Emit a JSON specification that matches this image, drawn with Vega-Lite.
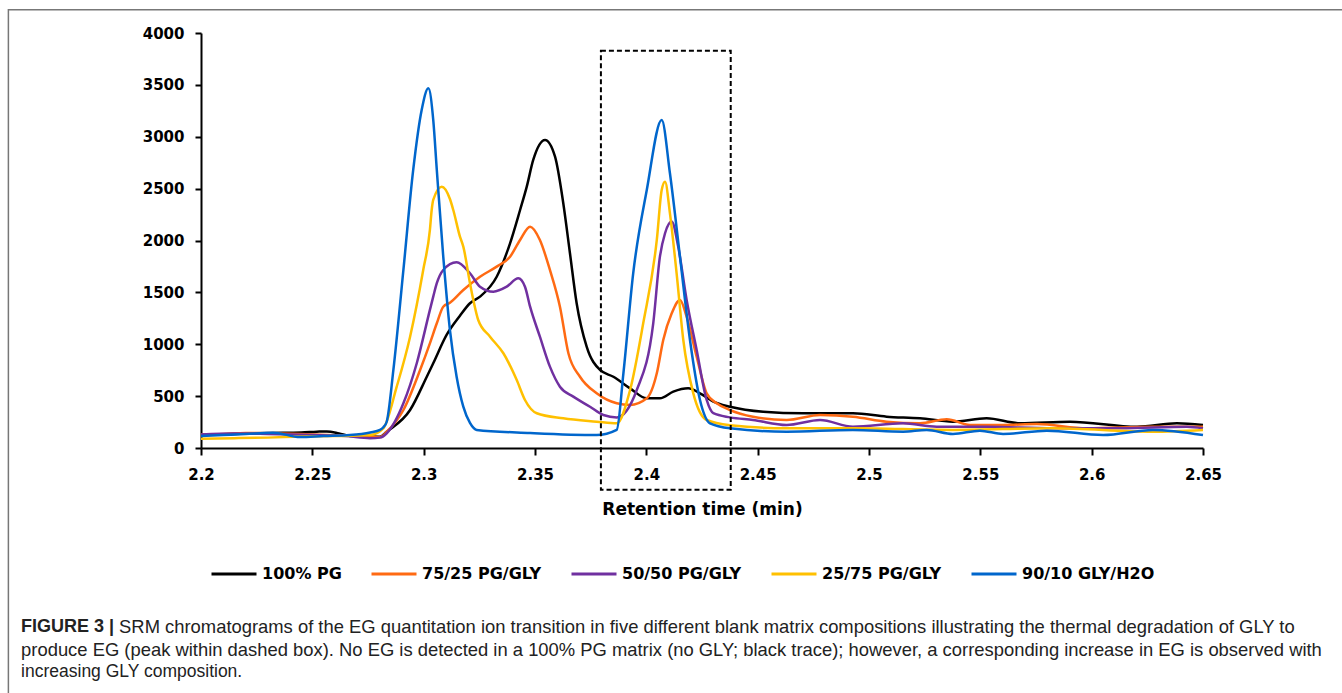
{
  "$schema": "https://vega.github.io/schema/vega-lite/v6.json",
  "width": 1002,
  "height": 415,
  "autosize": {"type": "none"},
  "padding": {"left": 201, "top": 33, "right": 139, "bottom": 245},
  "background": "white",
  "config": {"view": {"stroke": null}},
  "datasets": {
    "traces": [
      {"series":"100% PG","time":2.2,"signal":125},{"series":"100% PG","time":2.215,"signal":135},{"series":"100% PG","time":2.23,"signal":145},{"series":"100% PG","time":2.245,"signal":150},{"series":"100% PG","time":2.252,"signal":157},{"series":"100% PG","time":2.2565,"signal":160},{"series":"100% PG","time":2.262,"signal":140},{"series":"100% PG","time":2.2669,"signal":116},{"series":"100% PG","time":2.2804,"signal":109},{"series":"100% PG","time":2.2834,"signal":157},{"series":"100% PG","time":2.2939,"signal":366},{"series":"100% PG","time":2.3014,"signal":687},{"series":"100% PG","time":2.3043,"signal":817},{"series":"100% PG","time":2.3103,"signal":1090},{"series":"100% PG","time":2.3163,"signal":1275},{"series":"100% PG","time":2.3208,"signal":1395},{"series":"100% PG","time":2.3253,"signal":1459},{"series":"100% PG","time":2.3328,"signal":1651},{"series":"100% PG","time":2.3388,"signal":1973},{"series":"100% PG","time":2.3433,"signal":2294},{"series":"100% PG","time":2.3463,"signal":2519},{"series":"100% PG","time":2.3492,"signal":2776},{"series":"100% PG","time":2.3545,"signal":2969},{"series":"100% PG","time":2.359,"signal":2808},{"series":"100% PG","time":2.3627,"signal":2359},{"series":"100% PG","time":2.3657,"signal":1877},{"series":"100% PG","time":2.3687,"signal":1395},{"series":"100% PG","time":2.3732,"signal":977},{"series":"100% PG","time":2.3792,"signal":752},{"series":"100% PG","time":2.3852,"signal":687},{"series":"100% PG","time":2.3927,"signal":575},{"series":"100% PG","time":2.4002,"signal":479},{"series":"100% PG","time":2.4061,"signal":479},{"series":"100% PG","time":2.4121,"signal":543},{"series":"100% PG","time":2.4188,"signal":575},{"series":"100% PG","time":2.4241,"signal":527},{"series":"100% PG","time":2.4301,"signal":447},{"series":"100% PG","time":2.4376,"signal":398},{"series":"100% PG","time":2.4525,"signal":350},{"series":"100% PG","time":2.4704,"signal":335},{"series":"100% PG","time":2.4928,"signal":335},{"series":"100% PG","time":2.5079,"signal":302},{"series":"100% PG","time":2.5229,"signal":286},{"series":"100% PG","time":2.5377,"signal":254},{"series":"100% PG","time":2.5528,"signal":286},{"series":"100% PG","time":2.5678,"signal":238},{"series":"100% PG","time":2.5903,"signal":254},{"series":"100% PG","time":2.6204,"signal":205},{"series":"100% PG","time":2.6383,"signal":238},{"series":"100% PG","time":2.65,"signal":222},
      {"series":"75/25 PG/GLY","time":2.2,"signal":130},{"series":"75/25 PG/GLY","time":2.21,"signal":135},{"series":"75/25 PG/GLY","time":2.22,"signal":145},{"series":"75/25 PG/GLY","time":2.235,"signal":140},{"series":"75/25 PG/GLY","time":2.25,"signal":130},{"series":"75/25 PG/GLY","time":2.265,"signal":120},{"series":"75/25 PG/GLY","time":2.2804,"signal":105},{"series":"75/25 PG/GLY","time":2.2834,"signal":157},{"series":"75/25 PG/GLY","time":2.2909,"signal":366},{"series":"75/25 PG/GLY","time":2.2984,"signal":752},{"series":"75/25 PG/GLY","time":2.3028,"signal":1009},{"series":"75/25 PG/GLY","time":2.3059,"signal":1202},{"series":"75/25 PG/GLY","time":2.3088,"signal":1362},{"series":"75/25 PG/GLY","time":2.3118,"signal":1400},{"series":"75/25 PG/GLY","time":2.3178,"signal":1523},{"series":"75/25 PG/GLY","time":2.3253,"signal":1651},{"series":"75/25 PG/GLY","time":2.3328,"signal":1748},{"series":"75/25 PG/GLY","time":2.3388,"signal":1844},{"series":"75/25 PG/GLY","time":2.3433,"signal":2005},{"series":"75/25 PG/GLY","time":2.3478,"signal":2133},{"series":"75/25 PG/GLY","time":2.3522,"signal":2005},{"series":"75/25 PG/GLY","time":2.3567,"signal":1716},{"series":"75/25 PG/GLY","time":2.3612,"signal":1362},{"series":"75/25 PG/GLY","time":2.365,"signal":913},{"series":"75/25 PG/GLY","time":2.3702,"signal":687},{"series":"75/25 PG/GLY","time":2.3777,"signal":527},{"series":"75/25 PG/GLY","time":2.3867,"signal":431},{"series":"75/25 PG/GLY","time":2.3927,"signal":415},{"series":"75/25 PG/GLY","time":2.4002,"signal":479},{"series":"75/25 PG/GLY","time":2.4047,"signal":720},{"series":"75/25 PG/GLY","time":2.4076,"signal":1041},{"series":"75/25 PG/GLY","time":2.4114,"signal":1298},{"series":"75/25 PG/GLY","time":2.4151,"signal":1427},{"series":"75/25 PG/GLY","time":2.4181,"signal":1266},{"series":"75/25 PG/GLY","time":2.4226,"signal":880},{"series":"75/25 PG/GLY","time":2.4271,"signal":527},{"series":"75/25 PG/GLY","time":2.4316,"signal":431},{"series":"75/25 PG/GLY","time":2.4376,"signal":366},{"series":"75/25 PG/GLY","time":2.4479,"signal":302},{"series":"75/25 PG/GLY","time":2.463,"signal":270},{"series":"75/25 PG/GLY","time":2.478,"signal":318},{"series":"75/25 PG/GLY","time":2.4928,"signal":302},{"series":"75/25 PG/GLY","time":2.5079,"signal":254},{"series":"75/25 PG/GLY","time":2.5229,"signal":238},{"series":"75/25 PG/GLY","time":2.5349,"signal":276},{"series":"75/25 PG/GLY","time":2.5454,"signal":222},{"series":"75/25 PG/GLY","time":2.5602,"signal":222},{"series":"75/25 PG/GLY","time":2.5754,"signal":231},{"series":"75/25 PG/GLY","time":2.5979,"signal":190},{"series":"75/25 PG/GLY","time":2.6275,"signal":205},{"series":"75/25 PG/GLY","time":2.65,"signal":205},
      {"series":"50/50 PG/GLY","time":2.2,"signal":130},{"series":"50/50 PG/GLY","time":2.215,"signal":140},{"series":"50/50 PG/GLY","time":2.23,"signal":135},{"series":"50/50 PG/GLY","time":2.25,"signal":125},{"series":"50/50 PG/GLY","time":2.265,"signal":115},{"series":"50/50 PG/GLY","time":2.2759,"signal":95},{"series":"50/50 PG/GLY","time":2.2804,"signal":100},{"series":"50/50 PG/GLY","time":2.2834,"signal":142},{"series":"50/50 PG/GLY","time":2.2909,"signal":431},{"series":"50/50 PG/GLY","time":2.2969,"signal":817},{"series":"50/50 PG/GLY","time":2.3028,"signal":1331},{"series":"50/50 PG/GLY","time":2.3043,"signal":1459},{"series":"50/50 PG/GLY","time":2.3059,"signal":1588},{"series":"50/50 PG/GLY","time":2.3088,"signal":1716},{"series":"50/50 PG/GLY","time":2.3148,"signal":1790},{"series":"50/50 PG/GLY","time":2.3208,"signal":1684},{"series":"50/50 PG/GLY","time":2.3253,"signal":1555},{"series":"50/50 PG/GLY","time":2.3313,"signal":1507},{"series":"50/50 PG/GLY","time":2.3373,"signal":1555},{"series":"50/50 PG/GLY","time":2.3425,"signal":1636},{"series":"50/50 PG/GLY","time":2.3455,"signal":1555},{"series":"50/50 PG/GLY","time":2.3478,"signal":1362},{"series":"50/50 PG/GLY","time":2.3522,"signal":1073},{"series":"50/50 PG/GLY","time":2.3567,"signal":784},{"series":"50/50 PG/GLY","time":2.3612,"signal":591},{"series":"50/50 PG/GLY","time":2.3672,"signal":495},{"series":"50/50 PG/GLY","time":2.3747,"signal":398},{"series":"50/50 PG/GLY","time":2.3807,"signal":318},{"series":"50/50 PG/GLY","time":2.3867,"signal":295},{"series":"50/50 PG/GLY","time":2.3957,"signal":559},{"series":"50/50 PG/GLY","time":2.4031,"signal":1202},{"series":"50/50 PG/GLY","time":2.4061,"signal":1844},{"series":"50/50 PG/GLY","time":2.4084,"signal":2070},{"series":"50/50 PG/GLY","time":2.4114,"signal":2182},{"series":"50/50 PG/GLY","time":2.4143,"signal":1941},{"series":"50/50 PG/GLY","time":2.4181,"signal":1427},{"series":"50/50 PG/GLY","time":2.4226,"signal":945},{"series":"50/50 PG/GLY","time":2.4271,"signal":463},{"series":"50/50 PG/GLY","time":2.4301,"signal":335},{"series":"50/50 PG/GLY","time":2.4376,"signal":295},{"series":"50/50 PG/GLY","time":2.4479,"signal":270},{"series":"50/50 PG/GLY","time":2.463,"signal":222},{"series":"50/50 PG/GLY","time":2.478,"signal":270},{"series":"50/50 PG/GLY","time":2.4928,"signal":205},{"series":"50/50 PG/GLY","time":2.5153,"signal":238},{"series":"50/50 PG/GLY","time":2.5304,"signal":205},{"series":"50/50 PG/GLY","time":2.5528,"signal":205},{"series":"50/50 PG/GLY","time":2.5826,"signal":190},{"series":"50/50 PG/GLY","time":2.6127,"signal":190},{"series":"50/50 PG/GLY","time":2.6428,"signal":205},{"series":"50/50 PG/GLY","time":2.65,"signal":190},
      {"series":"25/75 PG/GLY","time":2.2,"signal":90},{"series":"25/75 PG/GLY","time":2.215,"signal":95},{"series":"25/75 PG/GLY","time":2.23,"signal":100},{"series":"25/75 PG/GLY","time":2.245,"signal":110},{"series":"25/75 PG/GLY","time":2.26,"signal":115},{"series":"25/75 PG/GLY","time":2.2759,"signal":125},{"series":"25/75 PG/GLY","time":2.2819,"signal":190},{"series":"25/75 PG/GLY","time":2.2879,"signal":591},{"series":"25/75 PG/GLY","time":2.2939,"signal":1073},{"series":"25/75 PG/GLY","time":2.2998,"signal":1716},{"series":"25/75 PG/GLY","time":2.3028,"signal":2102},{"series":"25/75 PG/GLY","time":2.3036,"signal":2294},{"series":"25/75 PG/GLY","time":2.3043,"signal":2391},{"series":"25/75 PG/GLY","time":2.3081,"signal":2519},{"series":"25/75 PG/GLY","time":2.3118,"signal":2400},{"series":"25/75 PG/GLY","time":2.3133,"signal":2294},{"series":"25/75 PG/GLY","time":2.3163,"signal":2037},{"series":"25/75 PG/GLY","time":2.3178,"signal":1941},{"series":"25/75 PG/GLY","time":2.3208,"signal":1588},{"series":"25/75 PG/GLY","time":2.3223,"signal":1427},{"series":"25/75 PG/GLY","time":2.3245,"signal":1234},{"series":"25/75 PG/GLY","time":2.3298,"signal":1073},{"series":"25/75 PG/GLY","time":2.3358,"signal":913},{"series":"25/75 PG/GLY","time":2.3418,"signal":655},{"series":"25/75 PG/GLY","time":2.3455,"signal":463},{"series":"25/75 PG/GLY","time":2.3508,"signal":335},{"series":"25/75 PG/GLY","time":2.3627,"signal":286},{"series":"25/75 PG/GLY","time":2.3777,"signal":254},{"series":"25/75 PG/GLY","time":2.3867,"signal":238},{"series":"25/75 PG/GLY","time":2.3927,"signal":559},{"series":"25/75 PG/GLY","time":2.3986,"signal":1202},{"series":"25/75 PG/GLY","time":2.4047,"signal":2005},{"series":"25/75 PG/GLY","time":2.4069,"signal":2487},{"series":"25/75 PG/GLY","time":2.4084,"signal":2567},{"series":"25/75 PG/GLY","time":2.4106,"signal":2262},{"series":"25/75 PG/GLY","time":2.4136,"signal":1684},{"series":"25/75 PG/GLY","time":2.4166,"signal":1041},{"series":"25/75 PG/GLY","time":2.4211,"signal":527},{"series":"25/75 PG/GLY","time":2.4271,"signal":270},{"series":"25/75 PG/GLY","time":2.4376,"signal":220},{"series":"25/75 PG/GLY","time":2.463,"signal":190},{"series":"25/75 PG/GLY","time":2.4928,"signal":190},{"series":"25/75 PG/GLY","time":2.5377,"signal":174},{"series":"25/75 PG/GLY","time":2.5826,"signal":190},{"series":"25/75 PG/GLY","time":2.6275,"signal":157},{"series":"25/75 PG/GLY","time":2.65,"signal":174},
      {"series":"90/10 GLY/H2O","time":2.2,"signal":115},{"series":"90/10 GLY/H2O","time":2.21,"signal":125},{"series":"90/10 GLY/H2O","time":2.22,"signal":135},{"series":"90/10 GLY/H2O","time":2.2323,"signal":148},{"series":"90/10 GLY/H2O","time":2.2445,"signal":105},{"series":"90/10 GLY/H2O","time":2.255,"signal":115},{"series":"90/10 GLY/H2O","time":2.2669,"signal":125},{"series":"90/10 GLY/H2O","time":2.276,"signal":150},{"series":"90/10 GLY/H2O","time":2.2804,"signal":175},{"series":"90/10 GLY/H2O","time":2.2819,"signal":200},{"series":"90/10 GLY/H2O","time":2.2834,"signal":253},{"series":"90/10 GLY/H2O","time":2.2864,"signal":752},{"series":"90/10 GLY/H2O","time":2.2909,"signal":1716},{"series":"90/10 GLY/H2O","time":2.2953,"signal":2680},{"series":"90/10 GLY/H2O","time":2.2991,"signal":3258},{"series":"90/10 GLY/H2O","time":2.3021,"signal":3467},{"series":"90/10 GLY/H2O","time":2.3043,"signal":3162},{"series":"90/10 GLY/H2O","time":2.3059,"signal":2680},{"series":"90/10 GLY/H2O","time":2.3088,"signal":1844},{"series":"90/10 GLY/H2O","time":2.3118,"signal":1137},{"series":"90/10 GLY/H2O","time":2.3148,"signal":687},{"series":"90/10 GLY/H2O","time":2.3178,"signal":398},{"series":"90/10 GLY/H2O","time":2.3208,"signal":241},{"series":"90/10 GLY/H2O","time":2.3238,"signal":174},{"series":"90/10 GLY/H2O","time":2.3478,"signal":145},{"series":"90/10 GLY/H2O","time":2.3777,"signal":125},{"series":"90/10 GLY/H2O","time":2.3867,"signal":174},{"series":"90/10 GLY/H2O","time":2.3897,"signal":720},{"series":"90/10 GLY/H2O","time":2.3941,"signal":1684},{"series":"90/10 GLY/H2O","time":2.4002,"signal":2487},{"series":"90/10 GLY/H2O","time":2.4069,"signal":3162},{"series":"90/10 GLY/H2O","time":2.4106,"signal":2648},{"series":"90/10 GLY/H2O","time":2.4151,"signal":1844},{"series":"90/10 GLY/H2O","time":2.4196,"signal":1041},{"series":"90/10 GLY/H2O","time":2.4241,"signal":463},{"series":"90/10 GLY/H2O","time":2.4286,"signal":238},{"series":"90/10 GLY/H2O","time":2.4376,"signal":190},{"series":"90/10 GLY/H2O","time":2.463,"signal":157},{"series":"90/10 GLY/H2O","time":2.4928,"signal":174},{"series":"90/10 GLY/H2O","time":2.5153,"signal":157},{"series":"90/10 GLY/H2O","time":2.5259,"signal":174},{"series":"90/10 GLY/H2O","time":2.5377,"signal":135},{"series":"90/10 GLY/H2O","time":2.5498,"signal":167},{"series":"90/10 GLY/H2O","time":2.5602,"signal":135},{"series":"90/10 GLY/H2O","time":2.5799,"signal":167},{"series":"90/10 GLY/H2O","time":2.6051,"signal":125},{"series":"90/10 GLY/H2O","time":2.6275,"signal":174},{"series":"90/10 GLY/H2O","time":2.65,"signal":125}
    ]
  },
  "layer": [
    {
      "data": {"name": "traces"},
      "mark": {"type": "line", "strokeWidth": 2.5, "interpolate": "monotone"},
      "encoding": {
        "x": {
          "field": "time", "type": "quantitative",
          "scale": {"domain": [2.2, 2.65], "nice": false, "zero": false},
          "axis": {
            "title": "Retention time (min)",
            "values": [2.2, 2.25, 2.3, 2.35, 2.4, 2.45, 2.5, 2.55, 2.6, 2.65],
            "format": "~g", "grid": false,
            "domainColor": "#000", "domainWidth": 2,
            "tickColor": "#000", "tickWidth": 2, "tickSize": 7,
            "labelFont": "DejaVu Sans", "labelFontWeight": "bold", "labelFontSize": 15, "labelColor": "#000",
            "labelPadding": 12, "labelFlush": false, "labelOverlap": false,
            "titleFont": "DejaVu Sans", "titleFontWeight": "bold", "titleFontSize": 17, "titleColor": "#000",
            "titlePadding": 19
          }
        },
        "y": {
          "field": "signal", "type": "quantitative",
          "scale": {"domain": [0, 4000], "nice": false},
          "axis": {
            "title": null,
            "values": [0, 500, 1000, 1500, 2000, 2500, 3000, 3500, 4000],
            "format": "d",
            "grid": false,
            "domainColor": "#000", "domainWidth": 2,
            "tickColor": "#000", "tickWidth": 2, "tickSize": 6,
            "labelFont": "DejaVu Sans", "labelFontWeight": "bold", "labelFontSize": 15, "labelColor": "#000",
            "labelPadding": 11
          }
        },
        "color": {
          "field": "series", "type": "nominal",
          "sort": ["100% PG", "75/25 PG/GLY", "50/50 PG/GLY", "25/75 PG/GLY", "90/10 GLY/H2O"],
          "scale": {
            "domain": ["100% PG", "75/25 PG/GLY", "50/50 PG/GLY", "25/75 PG/GLY", "90/10 GLY/H2O"],
            "range": ["#000000", "#FF6A13", "#7030A0", "#FFC000", "#0066CC"]
          },
          "legend": {
            "orient": "none", "legendX": 9, "legendY": 517, "direction": "horizontal",
            "title": null, "symbolType": "stroke", "symbolSize": 2025, "symbolStrokeWidth": 3,
            "labelFont": "DejaVu Sans", "labelFontWeight": "bold", "labelFontSize": 16, "labelColor": "#000",
            "labelOffset": 4, "columnPadding": 23, "padding": 0, "labelLimit": 300
          }
        }
      }
    },
    {
      "data": {"values": [{}]},
      "mark": {"type": "rect", "fillOpacity": 0, "stroke": "#000", "strokeWidth": 2, "strokeDash": [5, 3]},
      "encoding": {
        "x": {"datum": 2.3796, "type": "quantitative"},
        "x2": {"datum": 2.4379},
        "y": {"datum": 3829, "type": "quantitative"},
        "y2": {"datum": -402}
      }
    },
    {
      "data": {"values": [{}]},
      "mark": {"type": "rect", "fillOpacity": 0, "stroke": "#777777", "strokeWidth": 1.5},
      "encoding": {
        "x": {"datum": 2.1135, "type": "quantitative"},
        "x2": {"datum": 2.7138},
        "y": {"datum": 4225, "type": "quantitative"},
        "y2": {"datum": -2426}
      }
    },
    {
      "data": {"values": [{}]},
      "mark": {"type": "text", "text": "FIGURE 3 |", "align": "left", "baseline": "middle", "font": "Liberation Sans", "fontWeight": "bold", "fontSize": 18, "fill": "#222"},
      "encoding": {
        "x": {"datum": 2.1192, "type": "quantitative"},
        "y": {"datum": -1729, "type": "quantitative"}
      }
    },
    {
      "data": {"values": [{}]},
      "mark": {"type": "text", "text": "SRM chromatograms of the EG quantitation ion transition in five different blank matrix compositions illustrating the thermal degradation of GLY to", "align": "left", "baseline": "middle", "dx": 98, "font": "Liberation Sans", "fontSize": 18.4, "fill": "#222"},
      "encoding": {
        "x": {"datum": 2.1192, "type": "quantitative"},
        "y": {"datum": -1729, "type": "quantitative"}
      }
    },
    {
      "data": {"values": [{}]},
      "mark": {"type": "text", "text": "produce EG (peak within dashed box). No EG is detected in a 100% PG matrix (no GLY; black trace); however, a corresponding increase in EG is observed with", "align": "left", "baseline": "middle", "font": "Liberation Sans", "fontSize": 18.4, "fill": "#222"},
      "encoding": {
        "x": {"datum": 2.1192, "type": "quantitative"},
        "y": {"datum": -1944, "type": "quantitative"}
      }
    },
    {
      "data": {"values": [{}]},
      "mark": {"type": "text", "text": "increasing GLY composition.", "align": "left", "baseline": "middle", "font": "Liberation Sans", "fontSize": 17.5, "fill": "#222"},
      "encoding": {
        "x": {"datum": 2.1192, "type": "quantitative"},
        "y": {"datum": -2163, "type": "quantitative"}
      }
    }
  ]
}
